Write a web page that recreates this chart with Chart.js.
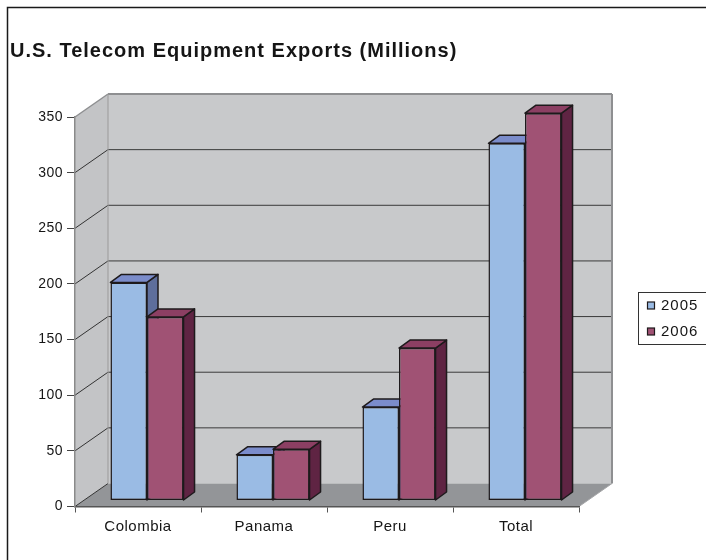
<!DOCTYPE html>
<html><head><meta charset="utf-8">
<script src="https://cdn.jsdelivr.net/npm/chart.js@4.4.1/dist/chart.umd.min.js"></script>
<style>html,body{margin:0;padding:0;background:#fff;overflow:hidden;}#wrap{width:706px;height:560px;}</style>
</head><body><div id="wrap"><canvas id="c" width="706" height="560"></canvas></div>
<script>
const categories = ['Colombia', 'Panama', 'Peru', 'Total'];
const values2005 = [196, 41, 84, 321];
const values2006 = [165, 46, 137, 348];
const seriesLabels = ['2005', '2006'];
const yTicks = [0, 50, 100, 150, 200, 250, 300, 350];
const chartTitle = 'U.S. Telecom Equipment Exports (Millions)';

const FONT = '"Liberation Sans", Arial, sans-serif';
const frontColors = ['#9ABBE4', '#A05274'];
const topColors = ['#7B8CCB', '#8C3F63'];
const sideColors = ['#5E6E9C', '#5F2443'];
const WALL = {dx: 33, dy: -23};
const BAR_OFF = {dx: 9, dy: -6};
const BAR_DEPTH = {dx: 11, dy: -8};

function poly(ctx, pts, fill, stroke, lw) {
  ctx.beginPath();
  ctx.moveTo(pts[0][0], pts[0][1]);
  for (let i = 1; i < pts.length; i++) ctx.lineTo(pts[i][0], pts[i][1]);
  ctx.closePath();
  if (fill) { ctx.fillStyle = fill; ctx.fill(); }
  if (stroke) { ctx.strokeStyle = stroke; ctx.lineWidth = lw || 1; ctx.lineJoin = 'round'; ctx.stroke(); }
}
function line(ctx, x1, y1, x2, y2, color, lw) {
  ctx.beginPath(); ctx.moveTo(x1, y1); ctx.lineTo(x2, y2);
  ctx.strokeStyle = color; ctx.lineWidth = lw; ctx.stroke();
}

const threeD = {
  id: 'threeD',
  beforeDraw(chart) {
    const ctx = chart.ctx, a = chart.chartArea, ys = chart.scales.y;
    const L = a.left, R = a.right, T = a.top, B = a.bottom, dx = WALL.dx, dy = WALL.dy;
    ctx.save();
    ctx.fillStyle = '#fff'; ctx.fillRect(0, 0, chart.width, chart.height);
    ctx.beginPath(); ctx.moveTo(7.5, chart.height + 2); ctx.lineTo(7.5, 7.5); ctx.lineTo(chart.width + 2, 7.5);
    ctx.strokeStyle = '#1a1a1a'; ctx.lineWidth = 1.5; ctx.stroke();
    poly(ctx, [[L + dx, T + dy], [R + dx, T + dy], [R + dx, B + dy], [L + dx, B + dy]], '#C8C9CB');
    poly(ctx, [[L, T], [L + dx, T + dy], [L + dx, B + dy], [L, B]], '#C3C4C6');
    poly(ctx, [[L, B], [R, B], [R + dx, B + dy], [L + dx, B + dy]], '#939598');
    yTicks.forEach(v => {
      const y = ys.getPixelForValue(v);
      if (v === yTicks[yTicks.length - 1]) return;
      line(ctx, L, y, L + dx, y + dy, '#333', 1);
      if (v !== 0) line(ctx, L + dx, y + dy, R + dx, y + dy, '#3a3a3a', 1);
    });
    const eg = '#8E8F91';
    line(ctx, L, T, L + dx, T + dy, eg, 1.5);
    line(ctx, L + dx, T + dy, R + dx, T + dy, eg, 2);
    line(ctx, R + dx, T + dy, R + dx, B + dy, eg, 2);
    line(ctx, L + dx, T + dy, L + dx, B + dy, '#9a9a9a', 1);
    line(ctx, R, B, R + dx, B + dy, '#a5a6a8', 1);
    ctx.restore();
    ctx.letterSpacing = '0.5px';
  },
  beforeDatasetsDraw(chart) {
    const ctx = chart.ctx;
    ctx.save();
    ctx.translate(BAR_OFF.dx, BAR_OFF.dy);
    chart.data.datasets.forEach((ds, di) => {
      const meta = chart.getDatasetMeta(di);
      meta.data.forEach(el => {
        const l = el.x - el.width / 2, r = el.x + el.width / 2, t = el.y, b = el.base;
        const ddx = BAR_DEPTH.dx, ddy = BAR_DEPTH.dy;
        poly(ctx, [[r, t], [r + ddx, t + ddy], [r + ddx, b + ddy], [r, b]], sideColors[di], '#1e1a1c', 1.5);
        poly(ctx, [[l, t], [l + ddx, t + ddy], [r + ddx, t + ddy], [r, t]], topColors[di], '#1e1a1c', 1.5);
      });
    });
  },
  afterDatasetsDraw(chart) {
    chart.ctx.restore();
  },
  afterDraw(chart) {
    const ctx = chart.ctx;
    ctx.save();
    ctx.letterSpacing = '1px';
    ctx.fillStyle = '#151515';
    ctx.font = 'bold 20px ' + FONT;
    ctx.textBaseline = 'alphabetic';
    ctx.textAlign = 'left';
    ctx.fillText(chartTitle, 10, 57);
    ctx.lineWidth = 1; ctx.strokeStyle = '#333';
    ctx.strokeRect(638.5, 292.5, 100, 52);
    ctx.font = '15px ' + FONT;
    ctx.textBaseline = 'middle';
    chart.data.datasets.forEach((ds, i) => {
      const yc = 305.5 + i * 26;
      ctx.fillStyle = frontColors[i];
      ctx.fillRect(647.5, yc - 3.5, 7, 7);
      ctx.strokeStyle = '#1e1a1c'; ctx.lineWidth = 1.2;
      ctx.strokeRect(647.5, yc - 3.5, 7, 7);
      ctx.fillStyle = '#151515';
      ctx.fillText(ds.label, 661, yc);
    });
    ctx.restore();
    ctx.letterSpacing = '0px';
  }
};

new Chart(document.getElementById('c'), {
  type: 'bar',
  data: {
    labels: categories,
    datasets: [
      {label: seriesLabels[0], data: values2005, backgroundColor: frontColors[0]},
      {label: seriesLabels[1], data: values2006, backgroundColor: frontColors[1]}
    ]
  },
  options: {
    responsive: false,
    animation: false,
    devicePixelRatio: 1,
    layout: {padding: {left: 0, top: 117, right: 127, bottom: 0}},
    datasets: {bar: {categoryPercentage: 0.58, barPercentage: 1, borderWidth: 1.5, borderColor: '#1e1a1c', borderSkipped: false, clip: false}},
    plugins: {legend: {display: false}, title: {display: false}, tooltip: {enabled: false}},
    scales: {
      x: {
        afterFit(s) { s.height = 53.5; },
        grid: {drawOnChartArea: false, tickLength: 6, tickColor: '#555', offset: true},
        border: {display: true, color: '#555', width: 1.5},
        ticks: {font: {family: FONT, size: 15}, color: '#151515', padding: 5}
      },
      y: {
        min: 0, max: 350,
        afterFit(s) { s.width = 75; },
        afterBuildTicks(s) { s.ticks = yTicks.map(v => ({value: v})); },
        grid: {drawOnChartArea: false, tickLength: 8, tickColor: '#444'},
        border: {display: true, color: '#8a8a8a', width: 1.5},
        ticks: {font: {family: FONT, size: 14}, color: '#151515', padding: 4}
      }
    }
  },
  plugins: [threeD]
});
</script>
</body></html>
